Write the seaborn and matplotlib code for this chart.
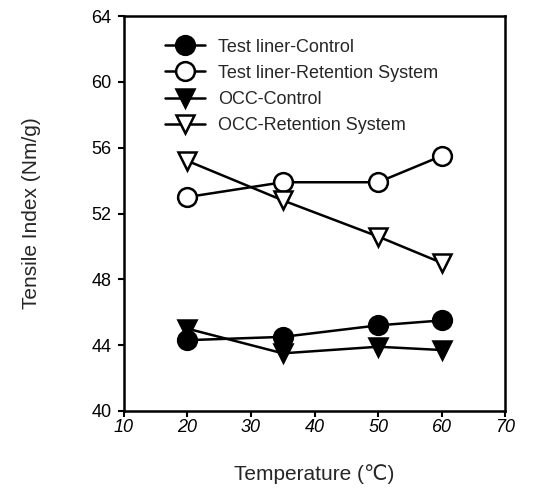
import pandas as pd
import matplotlib.pyplot as plt
import seaborn as sns

temps = [20, 35, 50, 60]
tl_control = [44.3, 44.5, 45.2, 45.5]
tl_retention = [53.0, 53.9, 53.9, 55.5]
occ_control = [45.0, 43.5, 43.9, 43.7]
occ_retention = [55.2, 52.8, 50.6, 49.0]

series = [
    ("Test liner-Control", tl_control, "o", "black"),
    ("Test liner-Retention System", tl_retention, "o", "white"),
    ("OCC-Control", occ_control, "v", "black"),
    ("OCC-Retention System", occ_retention, "v", "white"),
]

sns.set_style("ticks")
plt.rcParams['font.family'] = ['Liberation Sans', 'DejaVu Sans']

fig = plt.figure(figsize=(5.48, 4.88), dpi=100)
ax = fig.add_axes([0.226, 0.158, 0.696, 0.809])

for name, vals, mk, fc in series:
    df = pd.DataFrame({"Temperature": temps, "Tensile": vals})
    sns.lineplot(data=df, x="Temperature", y="Tensile", ax=ax, color="black",
                 marker=mk, markersize=13.5, markerfacecolor=fc,
                 markeredgecolor="black", markeredgewidth=1.8, linewidth=1.8,
                 label=name)

ax.set_xlim(10, 70)
ax.set_ylim(40, 64)
ax.set_xticks(range(10, 71, 10))
ax.set_yticks(range(40, 65, 4))
for s in ax.spines.values():
    s.set_linewidth(1.8)
    s.set_color("black")
ax.tick_params(direction="out", length=4, width=1.5, labelsize=13, colors="black")
ax.tick_params(axis="y", pad=5)
ax.tick_params(axis="x", pad=2)
for lbl in ax.get_xticklabels():
    lbl.set_fontstyle("italic")

ax.set_xlabel("Temperature (\u2103)", fontsize=15, labelpad=20)
ax.set_ylabel("Tensile Index (Nm/g)", fontsize=15, labelpad=36)

ax.legend(loc="upper left", bbox_to_anchor=(0.08, 0.97), frameon=False,
          fontsize=13, handlelength=2.2, labelspacing=0.5, handletextpad=0.75,
          borderaxespad=0.2)

plt.savefig("out.png", dpi=100)
plt.close()
